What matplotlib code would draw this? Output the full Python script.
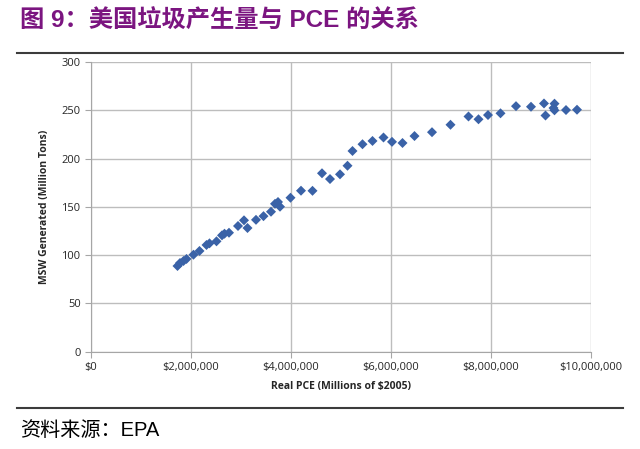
import matplotlib
matplotlib.use("Agg")
import matplotlib.pyplot as plt
from matplotlib.ticker import FuncFormatter, MultipleLocator
from matplotlib.lines import Line2D

# Real PCE (millions of 2005 $) vs MSW generated (million tons)
pce_millions = [1.73, 1.78, 1.85, 1.91, 2.05, 2.17, 2.31, 2.37, 2.51, 2.62,
                2.67, 2.76, 2.94, 3.06, 3.13, 3.30, 3.45, 3.60, 3.68, 3.74,
                3.78, 3.99, 4.20, 4.43, 4.62, 4.78, 4.98, 5.13, 5.23, 5.43,
                5.63, 5.85, 6.02, 6.23, 6.47, 6.82, 7.19, 7.55, 7.75, 7.94,
                8.19, 8.50, 8.80, 9.06, 9.09, 9.27, 9.25, 9.27, 9.50, 9.72]
msw_tons = [88.7, 91.8, 93.9, 96.0, 100.4, 104.3, 110.5, 112.2, 114.3, 120.5,
            122.2, 123.2, 130.2, 136.1, 128.1, 136.6, 140.4, 145.0, 153.2, 155.1,
            150.2, 159.5, 166.8, 166.7, 184.9, 178.9, 183.8, 192.7, 208.0, 215.0,
            218.4, 222.0, 217.5, 216.3, 223.5, 227.5, 235.2, 243.8, 240.9, 245.3,
            247.1, 254.5, 253.9, 257.3, 244.8, 257.1, 252.6, 250.2, 250.5, 250.8]

title = "图 9：美国垃圾产生量与 PCE 的关系"
source = "资料来源：EPA"
xlabel = "Real PCE (Millions of $2005)"
ylabel = "MSW Generated (Million Tons)"

W, H = 640, 449
fig = plt.figure(figsize=(W / 100, H / 100), dpi=100)

ax = fig.add_axes([91 / W, (H - 351.5) / H, 500 / W, 289.2 / H])
ax.scatter([v * 1e6 for v in pce_millions], msw_tons, marker="D", s=26,
           color="#3A62A7", edgecolors="none", zorder=3)

ax.set_xlim(0, 10e6)
ax.set_ylim(0, 300)
ax.xaxis.set_major_locator(MultipleLocator(2e6))
ax.yaxis.set_major_locator(MultipleLocator(50))
ax.xaxis.set_major_formatter(FuncFormatter(lambda v, p: "${:,.0f}".format(v)))
ax.grid(True, color="#BDBDBD", linewidth=1.0)
ax.set_axisbelow(True)
for side in ["top", "right"]:
    ax.spines[side].set_visible(False)
for side in ["left", "bottom"]:
    ax.spines[side].set_color("#A6A6A6")
ax.tick_params(axis="both", colors="#A6A6A6", labelcolor="#262626",
               labelsize=8, length=4, width=0.8, direction="out")
for lab in ax.get_xticklabels() + ax.get_yticklabels():
    lab.set_family("Open Sans")

ax.set_xlabel(xlabel, fontsize=7.5, fontweight="bold", family="Open Sans",
              color="#262626", labelpad=6)
ax.set_ylabel(ylabel, fontsize=7.5, fontweight="bold", family="Open Sans",
              color="#262626", labelpad=8)

fig.text(20 / W, 1 - 21 / H, title, fontsize=17.5, fontweight="bold",
         color="#7B1580", va="center", ha="left",
         family=["Liberation Sans", "Noto Sans CJK SC"])
fig.text(20 / W, 1 - 430 / H, source, fontsize=14.5, color="black",
         va="center", ha="left", family=["Liberation Sans", "Noto Sans CJK SC"])

for y in [53, 408]:
    fig.add_artist(Line2D([17 / W, 623 / W], [1 - y / H, 1 - y / H],
                          color="#3C3C3C", linewidth=1.5))

fig.savefig("out.png", dpi=100)
